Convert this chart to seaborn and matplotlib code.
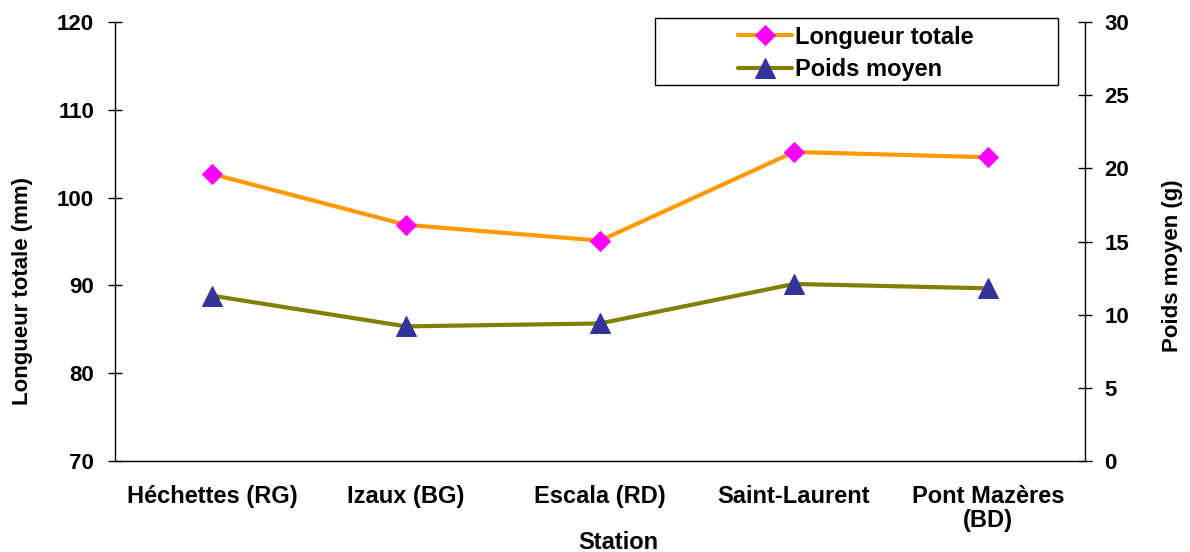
import numpy as np
import pandas as pd
import seaborn as sns
import matplotlib.pyplot as plt
from matplotlib.patches import Rectangle

sns.set_theme(style="white")
plt.rcParams["font.family"] = ["Liberation Sans", "DejaVu Sans"]
plt.rcParams["font.weight"] = "bold"
plt.rcParams["text.color"] = "black"
plt.rcParams["axes.labelcolor"] = "black"
plt.rcParams["xtick.color"] = "black"
plt.rcParams["ytick.color"] = "black"

# Data
stations = ["Héchettes (RG)", "Izaux (BG)", "Escala (RD)", "Saint-Laurent", "Pont Mazères\n(BD)"]
longueur_totale = [102.7, 96.9, 95.1, 105.2, 104.6]
poids_moyen = [11.3, 9.2, 9.4, 12.1, 11.8]

df = pd.DataFrame({"Station": stations,
                   "Longueur totale": longueur_totale,
                   "Poids moyen": poids_moyen})
df["pos"] = np.arange(len(df))

fs = 17

fig = plt.figure(figsize=(11.9, 5.52), dpi=100)
ax = fig.add_axes([0.0966, 0.1649, 0.8152, 0.7951])
ax2 = ax.twinx()

sns.lineplot(data=df, x="pos", y="Longueur totale", ax=ax, color="#FF9900", lw=3,
             marker="D", markersize=9.7, markerfacecolor="#FF00FF",
             markeredgecolor="#FF00FF", label="Longueur totale", legend=False)
sns.lineplot(data=df, x="pos", y="Poids moyen", ax=ax2, color="#808000", lw=3,
             marker="^", markersize=14, markerfacecolor="#333399",
             markeredgecolor="#333399", label="Poids moyen", legend=False)

ax.set_xlim(-0.5, len(stations) - 0.5)
ax.set_ylim(70, 120)
ax2.set_ylim(0, 30)
ax.set_yticks(range(70, 121, 10))
ax2.set_yticks(range(0, 31, 5))

# boundaries between categories carry the ticks, names sit in the middle
ax.set_xticks(np.arange(-0.5, len(stations), 1.0))
ax.set_xticklabels([])
ax.set_xticks(df["pos"], minor=True)
ax.set_xticklabels(stations, minor=True, fontsize=fs, fontweight="bold", linespacing=1.1)
ax.tick_params(axis="x", which="minor", length=0, pad=17)
ax.tick_params(axis="x", which="major", direction="inout", length=12, width=1, color="black")
ax.tick_params(axis="y", direction="inout", length=10, width=1, color="black", labelsize=16, pad=10)
ax2.tick_params(axis="y", direction="inout", length=10, width=1, color="black", labelsize=16, pad=9)
for lab in ax.get_yticklabels() + ax2.get_yticklabels():
    lab.set_fontweight("bold")

for a in (ax, ax2):
    for s in a.spines.values():
        s.set_visible(False)
    a.grid(False)
ax.spines["left"].set_visible(True)
ax.spines["bottom"].set_visible(True)
ax2.spines["right"].set_visible(True)
for s in (ax.spines["left"], ax.spines["bottom"], ax2.spines["right"]):
    s.set_color("black")
    s.set_linewidth(1)

ax.set_xlabel("Station", fontsize=fs, fontweight="bold")
ax.set_ylabel("Longueur totale (mm)", fontsize=16, fontweight="bold")
ax2.set_ylabel("Poids moyen (g)", fontsize=16, fontweight="bold")
ax.xaxis.set_label_coords(0.519, -0.16)
ax.yaxis.set_label_coords(-0.0845, 0.387)
ax2.yaxis.set_label_coords(1.0794, 0.446)

# legend box drawn like the spreadsheet one: wide frame, entries to the right
fig.patches.append(Rectangle((655 / 1190, 1 - 85 / 552), 403 / 1190, 67 / 552,
                             transform=fig.transFigure, fill=False,
                             edgecolor="black", lw=1, zorder=5))
h1, l1 = ax.get_legend_handles_labels()
h2, l2 = ax2.get_legend_handles_labels()
leg = fig.legend(h1 + h2, l1 + l2, loc="upper left",
                 bbox_to_anchor=(733 / 1190, 1 - 21 / 552),
                 frameon=False, prop={"size": fs, "weight": "bold"},
                 handlelength=2.3, handletextpad=0.12, borderpad=0.2,
                 labelspacing=0.4, borderaxespad=0)

fig.savefig("out.png", dpi=100)
